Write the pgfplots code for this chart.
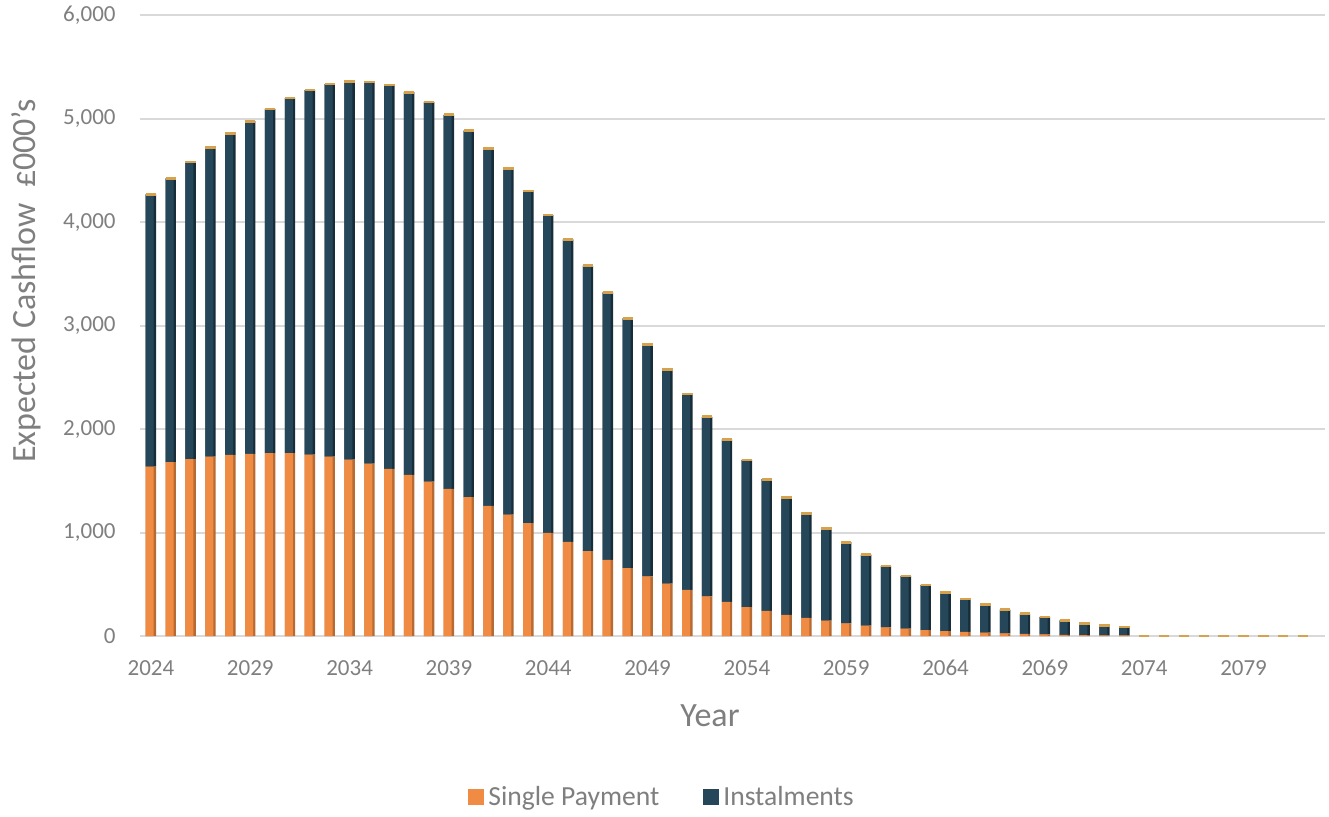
\documentclass[border=0pt]{standalone}
\usepackage{fontspec}
\setmainfont{Carlito}
\usepackage{pgfplots}
\usepackage{pgfplotstable}
\pgfplotsset{compat=1.18}

\definecolor{single}{HTML}{F08B43}
\definecolor{singledark}{HTML}{B86A33}
\definecolor{instal}{HTML}{254759}
\definecolor{instaldark}{HTML}{172E3A}
\definecolor{captop}{HTML}{D6A24E}
\definecolor{txt}{HTML}{7F7F7F}
\definecolor{gridc}{HTML}{D9D9D9}

% expected cashflow, £000's
\pgfplotstableread{
year single instal
2024 1637 2631
2025 1680 2742
2026 1709 2872
2027 1734 2986
2028 1750 3105
2029 1760 3214
2030 1767 3326
2031 1767 3430
2032 1753 3521
2033 1734 3598
2034 1705 3650
2035 1666 3685
2036 1615 3707
2037 1557 3697
2038 1492 3669
2039 1422 3614
2040 1341 3543
2041 1257 3453
2042 1173 3343
2043 1090 3210
2044 996 3072
2045 909 2924
2046 819 2759
2047 735 2585
2048 655 2414
2049 577 2240
2050 506 2070
2051 445 1895
2052 382 1736
2053 329 1570
2054 280 1422
2055 242 1273
2056 203 1138
2057 174 1009
2058 148 890
2059 123 783
2060 100 686
2061 84 593
2062 71 509
2063 58 435
2064 48 375
2065 39 319
2066 32 271
2067 26 228
2068 20 195
2069 16 168
2070 12 140
2071 9 114
2072 7 96
2073 5 82
2074 0 0
2075 0 0
2076 0 0
2077 0 0
2078 0 0
2079 0 0
2080 0 0
2081 0 0
2082 0 0
}\cashflow

\pgfplotsset{
    frame/.style={
        scale only axis,
        width=592.5pt, height=310.5pt,
        xmin=2023.45, xmax=2083.1,
        ymin=0, ymax=6000,
    },
    bare/.style={frame, axis line style={draw=none}, xtick=\empty, ytick=\empty},
}

\begin{document}
\begin{tikzpicture}
% back: grid, labels and the dark right sides of the columns
\begin{axis}[
    frame,
    ybar stacked, bar width=5.2pt,
    xtick={2024,2029,...,2079},
    ytick={0,1000,...,6000},
    ymajorgrids,
    major grid style={gridc, line width=1pt},
    axis line style={draw=none},
    major tick length=0pt,
    /pgf/number format/assume math mode=true,
    tick label style={text=txt, font=\fontsize{11.5}{13}\selectfont, inner sep=0pt},
    x tick label style={/pgf/number format/1000 sep={}, anchor=center, yshift=-16pt},
    y tick label style={/pgf/number format/1000 sep={,}, anchor=east, xshift=-12pt},
    xlabel={Year},
    ylabel={Expected Cashflow\ \ £000's},
    label style={text=txt, font=\fontsize{17}{20}\selectfont},
    xlabel style={at={(axis description cs:0.481,-0.1288)}, anchor=center},
    ylabel style={at={(axis description cs:-0.0962,0.5717)}, anchor=center},
]
\addplot[fill=singledark, draw=none] table[x=year, y=single] {\cashflow};
\addplot[fill=instaldark, draw=none] table[x=year, y=instal] {\cashflow};
\end{axis}
% front faces of the columns, and the legend
\begin{axis}[
    bare,
    ybar stacked, bar width=4pt, bar shift=-0.6pt,
    legend columns=2,
    legend style={at={(axis description cs:0.4414,-0.2593)}, anchor=center,
        draw=none, text=txt, font=\fontsize{13.8}{16}\selectfont,
        /tikz/every even column/.append style={column sep=20pt}},
    legend image code/.code={\fill[#1] (0pt,-4pt) rectangle (8pt,4pt);},
]
\addplot[fill=single, draw=none] table[x=year, y=single] {\cashflow};
\addplot[fill=instal, draw=none] table[x=year, y=instal] {\cashflow};
\legend{Single Payment, Instalments}
\end{axis}
% top faces of the columns
\begin{axis}[bare]
\addplot[only marks, mark=-, mark size=2.6pt,
    mark options={draw=captop, line width=1.3pt}]
    table[x=year, y expr=\thisrow{single}+\thisrow{instal}] {\cashflow};
\end{axis}
\pgfresetboundingbox
\path (-70pt,-90pt) rectangle (594.5pt,318pt);
\end{tikzpicture}
\end{document}
